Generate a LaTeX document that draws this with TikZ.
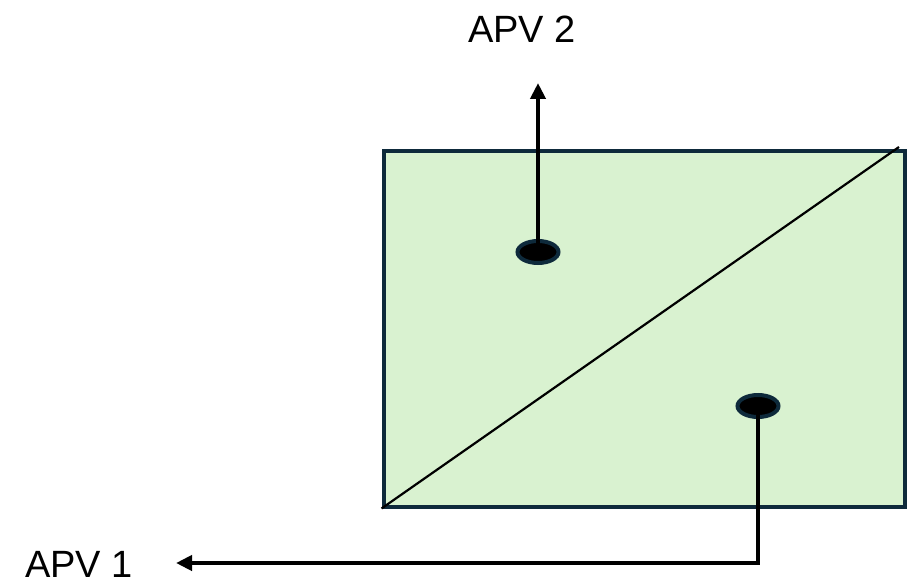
\documentclass[tikz,border=0pt]{standalone}
\usepackage{fontspec}
\setmainfont{Liberation Sans}
\usetikzlibrary{shapes.geometric,arrows.meta}
\definecolor{boxfill}{HTML}{D9F2D0}
\definecolor{navy}{HTML}{0E2A3B}
\begin{document}
\begin{tikzpicture}[x=1pt,y=-1pt,
  panel/.style={draw=navy,line width=4pt,fill=boxfill,minimum width=521pt,minimum height=356pt,inner sep=0pt},
  port/.style={ellipse,draw=navy,line width=4pt,fill=black,minimum width=41pt,minimum height=22pt,inner sep=0pt},
  lbl/.style={font=\fontsize{38}{40}\selectfont,inner sep=0pt},
  wire/.style={line width=4pt,black},
  tipped/.style={wire,-{Triangle[width=15pt,length=16pt]}}]
\useasboundingbox (0,0) rectangle (911,586);
\node[panel] (box) at (644,328.5) {};
\draw[line width=2.2pt,black] (box.south west) -- (899,147);
\node[port] (p2) at (538,252) {};
\node[port] (p1) at (758,406) {};
\node[lbl,anchor=base] (apv2) at (522,43) {APV 2};
\node[lbl,anchor=base] (apv1) at (79,577) {APV 1};
\coordinate (t2) at (538,83);
\coordinate (c1) at (758,563);
\coordinate (t1) at (176,563);
\draw[tipped] (p2.center) -- (t2);
\draw[tipped] (p1.center) -- (c1) -- (t1);
\end{tikzpicture}
\end{document}
